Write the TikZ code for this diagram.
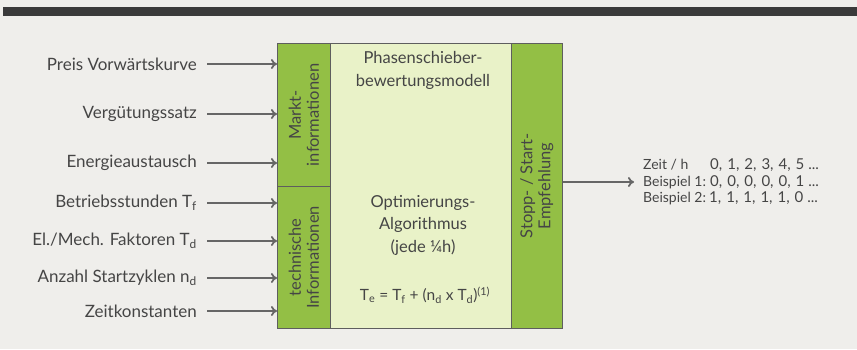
\documentclass[tikz,border=0pt]{standalone}
\usepackage{fontspec}
\setmainfont{Lato}
\usetikzlibrary{arrows.meta}
\definecolor{bg}{HTML}{EFEEEB}
\definecolor{bar}{HTML}{3A3A3A}
\definecolor{grn}{HTML}{93BF45}
\definecolor{lgrn}{HTML}{E9F2C8}
\definecolor{frame}{HTML}{5E5E5E}
\definecolor{txt}{HTML}{454545}
\definecolor{arr}{HTML}{666666}
\newcommand\vsep{,\hspace{5pt}}
\newcommand\vals[1]{{\fontsize{15}{16.5}\selectfont #1}}
\tikzset{
  lbl/.style={anchor=east, inner sep=0pt, text=txt, font=\fontsize{17}{19}\selectfont},
  inarrow/.style={draw=arr, line width=2pt, -{To[length=6pt,width=10pt,line width=1.8pt]}},
  col/.style={fill=grn, draw=frame, line width=0.8pt},
  vtxt/.style={rotate=90, text=txt, align=center, font=\fontsize{16.5}{18}\selectfont, inner sep=0pt},
  mtxt/.style={text=txt, align=center, font=\fontsize{16.5}{23}\selectfont, inner sep=0pt}
}
\begin{document}
\begin{tikzpicture}[x=1pt,y=-1pt]
\fill[bg] (0,0) rectangle (857,349);
\useasboundingbox (0,0) rectangle (857,349);
\fill[bar] (3,7) rectangle (857,16);
% main block
\node[draw=frame, fill=lgrn, line width=0.8pt, minimum width=285pt, minimum height=285pt, inner sep=0pt, anchor=north west] (box) at (277,43) {};
\node[col, minimum width=53pt, minimum height=143pt, inner sep=0pt, anchor=north west] (mk) at (277,43) {};
\node[col, minimum width=53pt, minimum height=142pt, inner sep=0pt, anchor=north west] (ti) at (277,186) {};
\node[col, minimum width=51pt, minimum height=285pt, inner sep=0pt, anchor=north west] (ss) at (511,43) {};
\draw[frame, line width=0.8pt] (box.north west) rectangle (box.south east);
% column texts
\node[vtxt] (mkt) at (mk.center) {Markt-\\informationen};
\node[vtxt] (tit) at (ti.center) {technische\\Informationen};
\node[vtxt] (sst) at (ss.center) {Stopp- / Start-\\Empfehlung};
% middle texts
\node[mtxt] (ph) at (423,70) {Phasenschieber-\\bewertungsmodell};
\node[mtxt, font=\fontsize{16.5}{22.5}\selectfont] (opt) at (423,225) {Optimierungs-\\Algorithmus\\(jede ¼h)};
\node[mtxt, font=\fontsize{15.5}{18}\selectfont] (form) at (425,295) {T\textsubscript{e} = T\textsubscript{f} + (n\textsubscript{d} x T\textsubscript{d})\textsuperscript{(1)}};
% inputs
\node[lbl] (i1) at (197,64) {Preis Vorwärtskurve};
\node[lbl] (i2) at (197,114) {Vergütungssatz};
\node[lbl] (i3) at (197,163) {Energieaustausch};
\node[lbl] (i4) at (197,203) {Betriebsstunden T\textsubscript{f}};
\node[lbl] (i5) at (197,241) {El./Mech. Faktoren T\textsubscript{d}};
\node[lbl] (i6) at (197,278) {Anzahl Startzyklen n\textsubscript{d}};
\node[lbl] (i7) at (197,311) {Zeitkonstanten};
\foreach \i in {1,...,7}{
  \draw[inarrow] ([xshift=10pt]i\i.east) -- (i\i.east -| box.west);
}
% output
\node[anchor=west, inner sep=0pt, text=txt, align=left, font=\fontsize{14}{16.5}\selectfont] (out) at (643,182)
{\makebox[67pt][l]{Zeit / h}\vals{0\vsep 1\vsep 2\vsep 3\vsep 4\vsep 5 ...}\\
 \makebox[67pt][l]{Beispiel 1:}\vals{0\vsep 0\vsep 0\vsep 0\vsep 0\vsep 1 ...}\\
 \makebox[66pt][l]{Beispiel 2:}\vals{1\vsep 1\vsep 1\vsep 1\vsep 1\vsep 0 ...}};
\draw[inarrow] (box.east |- out.west) -- ([xshift=-9pt]out.west);
\end{tikzpicture}
\end{document}
